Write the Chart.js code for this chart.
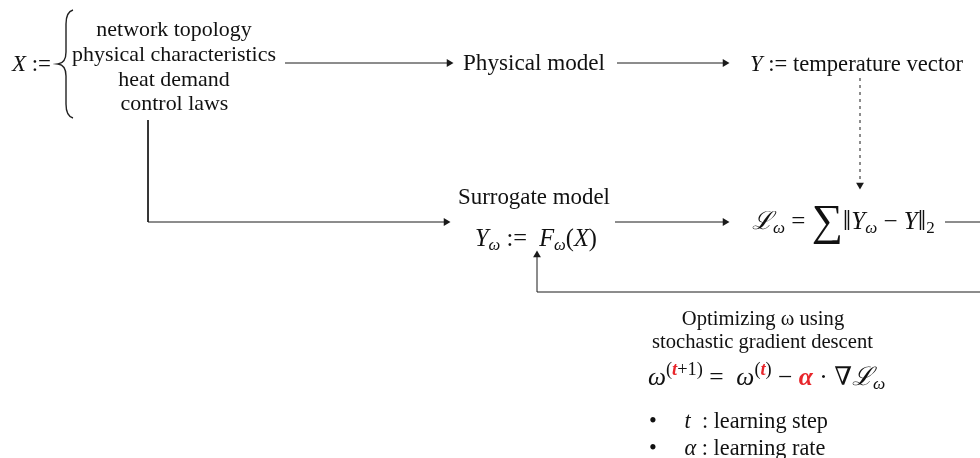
<!DOCTYPE html>
<html><head><meta charset="utf-8">
<script src="https://cdn.jsdelivr.net/npm/chart.js@4.4.1/dist/chart.umd.min.js"></script>
<style>html,body{margin:0;padding:0;background:#fff}#wrap{width:980px;height:458px}</style>
</head><body><div id="wrap"><canvas id="c" width="980" height="458"></canvas></div>
<script>
// ---- content (text) ----
const inputSymbol = 'X';
const listItems = ['network topology', 'physical characteristics', 'heat demand', 'control laws'];
const nodeLabels = ['Physical model', 'Surrogate model'];
const outputLabel = 'temperature vector';
const sgdLines = ['Optimizing ω using', 'stochastic gradient descent'];
const bulletTerms = ['t', 'α'];
const bulletDefs = [': learning step', ': learning rate'];

// ---- connectors (diagram coordinates, used as data on linear scales) ----
const arrowX_to_phys = [[285, 63], [449, 63]];
const arrowPhys_to_Y = [[617, 63], [725, 63]];
const arrowY_to_L = [[860, 78], [860, 185]];
const arrowX_to_surr = [[148, 120], [148, 222], [446, 222]];
const arrowSurr_to_L = [[615, 222], [725, 222]];
const lineL_out = [[945, 222], [981, 222]];
const arrowFeedback = [[981, 292], [537, 292], [537, 255]];

const SERIF = '"Liberation Serif", "DejaVu Serif", serif';
const INK = '#1a1a1a';
const RED = '#e8262b';

function ds(pts, rot, opts) {
  const n = pts.length;
  return Object.assign({
    data: pts.map(p => ({x: p[0], y: p[1]})),
    showLine: true,
    clip: false,
    borderColor: INK,
    backgroundColor: INK,
    borderWidth: 1,
    pointRadius: pts.map((p, i) => (rot === null || i < n - 1) ? 0 : 4.5),
    pointStyle: 'triangle',
    rotation: rot === null ? 0 : rot,
    pointBorderWidth: 0,
    pointHoverRadius: 0,
    tension: 0
  }, opts || {});
}

function R(t, o) { return Object.assign({t: t}, o || {}); }
const SUB = {i: 1, s: 0.68, dy: 4};
const SUP = {s: 0.72, dy: -10};
const BAR = {s: 1.2, dy: 1};
// g: size group; w: target width used to fit the group's font size (fit:1)
const labels = [
  {g: 'xs', x: 12, y: 71, w: 39, fit: 1, runs: [R(inputSymbol, {i: 1}), R(' :=')]},
  {g: 'list', cx: 174, y: 36, runs: [R(listItems[0])]},
  {g: 'list', cx: 174, y: 61, w: 204, fit: 1, runs: [R(listItems[1])]},
  {g: 'list', cx: 174, y: 86, runs: [R(listItems[2])]},
  {g: 'list', cx: 174.5, y: 110, runs: [R(listItems[3])]},
  {g: 'phys', x: 463, y: 70, w: 142, fit: 1, runs: [R(nodeLabels[0])]},
  {g: 'yv', x: 750, y: 71, w: 213, fit: 1, runs: [R('Y', {i: 1}), R(' := '), R(outputLabel)]},
  {g: 'surr', x: 458, y: 204, w: 152, fit: 1, runs: [R(nodeLabels[1])]},
  {g: 'fw', x: 475, y: 246, w: 122, fit: 1, runs: [R('Y', {i: 1}), R('ω', SUB), R(' :=  '), R('F', {i: 1}), R('ω', SUB), R('('), R('X', {i: 1}), R(')')]},
  {g: 'loss', x: 752, y: 229, w: 183, fit: 1, runs: [R('ℒ', {i: 1}), R('ω', SUB), R(' = '), R('∑', {s: 1.75, dy: 6}), R('‖', BAR), R('Y', {i: 1}), R('ω', SUB), R(' − '), R('Y', {i: 1}), R('‖', BAR), R('2', {s: 0.68, dy: 4})]},
  {g: 'sgd', cx: 763, y: 325, runs: [R(sgdLines[0])]},
  {g: 'sgd', cx: 762.5, y: 348, w: 221, fit: 1, runs: [R(sgdLines[1])]},
  {g: 'upd', x: 648, y: 385, w: 238, fit: 1, runs: [R('ω', {i: 1}), R('(', SUP), R('t', Object.assign({b: 1, i: 1, c: RED}, SUP)), R('+1)', SUP), R(' =  '), R('ω', {i: 1}), R('(', SUP), R('t', Object.assign({b: 1, i: 1, c: RED}, SUP)), R(')', SUP), R(' − '), R('α', {i: 1, b: 1, c: RED}), R(' · ∇'), R('ℒ', {i: 1}), R('ω', SUB)]},
  {g: 'bul', x: 649, y: 428, w: 179, fit: 1, runs: [R('•'), R('     '), R(bulletTerms[0], {i: 1}), R('  '), R(bulletDefs[0])]},
  {g: 'bul', x: 649, y: 455, runs: [R('•'), R('     '), R(bulletTerms[1], {i: 1}), R(' '), R(bulletDefs[1])]}
];

function fontOf(r, size) {
  return (r.i ? 'italic ' : '') + (r.b ? 'bold ' : '') + (size * (r.s || 1)).toFixed(2) + 'px ' + SERIF;
}
function measure(ctx, runs, size) {
  let w = 0;
  runs.forEach(r => { ctx.font = fontOf(r, size); w += ctx.measureText(r.t).width; });
  return w;
}

const textPlugin = {
  id: 'diagramText',
  afterDraw(chart) {
    const ctx = chart.ctx, xs = chart.scales.x, ys = chart.scales.y;
    const X = v => xs.getPixelForValue(v), Y = v => ys.getPixelForValue(v);
    ctx.save();
    ctx.textBaseline = 'alphabetic';
    ctx.textAlign = 'left';
    const base = 20, sizes = {};
    labels.forEach(L => { if (L.fit) sizes[L.g] = base * L.w / measure(ctx, L.runs, base); });
    labels.forEach(L => {
      const size = sizes[L.g] || base;
      const w = measure(ctx, L.runs, size);
      const left = L.cx !== undefined ? L.cx - w / 2 : L.x;
      let px = X(left);
      const py = Y(L.y);
      L.runs.forEach(r => {
        ctx.font = fontOf(r, size);
        ctx.fillStyle = r.c || '#111';
        ctx.fillText(r.t, px, py + (r.dy || 0));
        px += ctx.measureText(r.t).width;
      });
    });
    // curly brace
    const bx = 71, tip = 58, top = 10, bot = 118, mid = 64;
    ctx.strokeStyle = '#222';
    ctx.lineWidth = 1.4;
    ctx.beginPath();
    ctx.moveTo(X(bx + 2), Y(top));
    ctx.quadraticCurveTo(X(bx - 5), Y(top + 2), X(bx - 5), Y(top + 14));
    ctx.lineTo(X(bx - 5), Y(mid - 12));
    ctx.quadraticCurveTo(X(bx - 5), Y(mid - 1), X(tip), Y(mid));
    ctx.quadraticCurveTo(X(bx - 5), Y(mid + 1), X(bx - 5), Y(mid + 12));
    ctx.lineTo(X(bx - 5), Y(bot - 14));
    ctx.quadraticCurveTo(X(bx - 5), Y(bot - 2), X(bx + 2), Y(bot));
    ctx.stroke();
    ctx.restore();
  }
};

new Chart(document.getElementById('c'), {
  type: 'scatter',
  data: {
    datasets: [
      ds(arrowX_to_phys, 90),
      ds(arrowPhys_to_Y, 90),
      ds(arrowY_to_L, 180, {borderDash: [3, 4]}),
      ds(arrowX_to_surr, 90),
      ds(arrowSurr_to_L, 90),
      ds(lineL_out, null),
      ds(arrowFeedback, 0)
    ]
  },
  options: {
    responsive: false,
    animation: false,
    layout: {padding: 0, autoPadding: false},
    plugins: {legend: {display: false}, tooltip: {enabled: false}},
    scales: {
      x: {type: 'linear', min: 0, max: 980, display: false},
      y: {type: 'linear', min: 0, max: 458, reverse: true, display: false}
    }
  },
  plugins: [textPlugin]
});
</script></body></html>
